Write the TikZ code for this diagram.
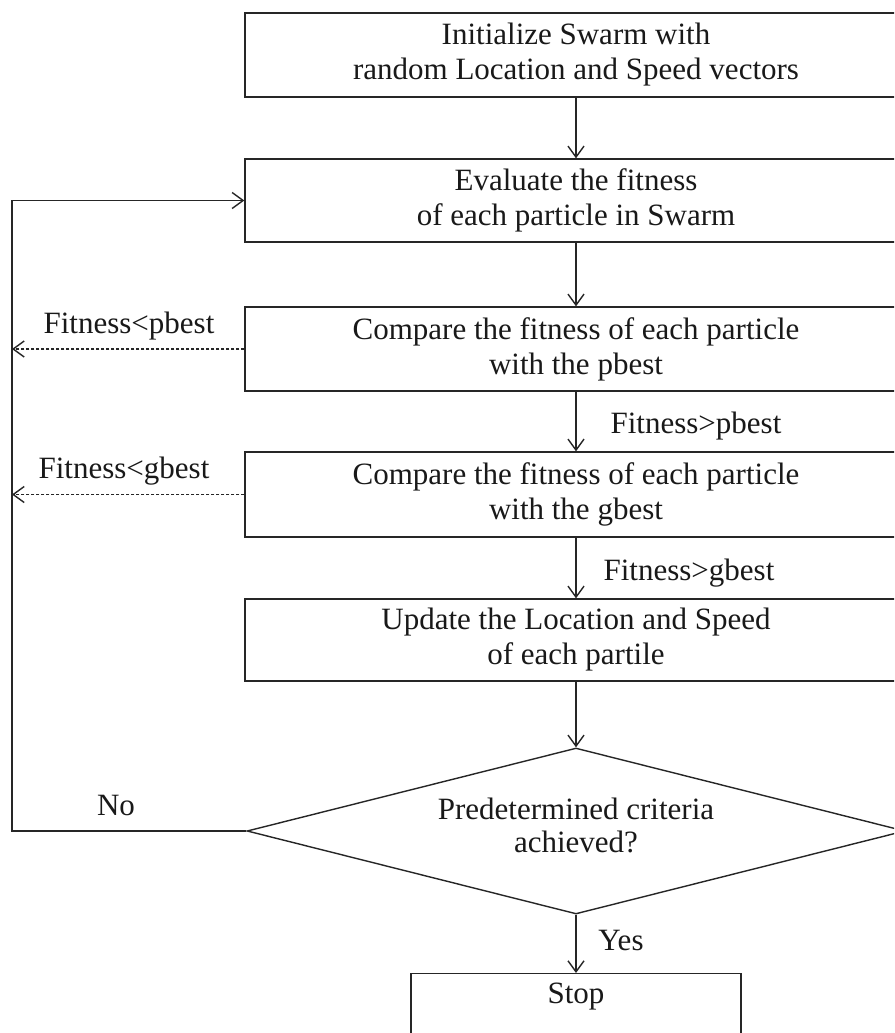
\documentclass[tikz,border=0pt]{standalone}
\usepackage{fontspec}
\setmainfont{Liberation Serif}
\usetikzlibrary{arrows.meta,shapes.geometric,calc}
\begin{document}
\begin{tikzpicture}[x=1pt,y=-1pt,
  edgeline/.style={draw=black!85, line width=1.4pt},
  box/.style={edgeline, rectangle, minimum width=662, inner sep=0, align=center,
    font=\fontsize{31}{35}\selectfont, text=black!90},
  dec/.style={edgeline, diamond, minimum width=658, minimum height=166, aspect=4,
    inner sep=0, align=center, font=\fontsize{31}{35}\selectfont, text=black!90},
  arr/.style={edgeline, -{Straight Barb[length=11pt,width=16pt]}},
  darr/.style={arr, dash pattern=on 3pt off 2pt},
  lbl/.style={font=\fontsize{31}{35}\selectfont, anchor=base, inner sep=0, text=black!90},
]
\useasboundingbox (0,0) rectangle (894,1033);
\clip (0,0) rectangle (894,1033);
\fill[white] (0,0) rectangle (894,1033);

\node[box, minimum height=84] (init) at (576,55) {Initialize Swarm with\\random Location and Speed vectors};
\node[box, minimum height=83] (eval) at (576,200.5) {Evaluate the fitness\\of each particle in Swarm};
\node[box, minimum height=84] (cmpp) at (576,349) {Compare the fitness of each particle\\with the pbest};
\node[box, minimum height=85] (cmpg) at (576,494.5) {Compare the fitness of each particle\\with the gbest};
\node[box, minimum height=82] (upd) at (576,640) {Update the Location and Speed\\of each partile};
\node[dec] (dc) at (576,831) {};
\node[lbl] (dct1) at (576,819) {Predetermined criteria};
\node[lbl] (dct2) at (576,852) {achieved?};
\node[edgeline, rectangle, minimum width=330, minimum height=100, anchor=north, inner sep=0] (stop) at (576,973) {};
\node[lbl] (stoptxt) at (576,1003) {Stop};

\coordinate (fb) at (12,831);

\draw[arr] (init) -- (eval);
\draw[arr] (eval) -- (cmpp);
\draw[arr] (cmpp) -- (cmpg);
\draw[arr] (cmpg) -- (upd);
\draw[arr] (upd) -- (dc);
\draw[arr] (dc) -- (stop);
\draw[arr] (dc.west) -- (fb) |- (eval.west);
\draw[darr] (cmpp.west) -- (cmpp.west -| fb);
\draw[darr] (cmpg.west) -- (cmpg.west -| fb);

\node[lbl] (lp1) at (129,333) {Fitness<pbest};
\node[lbl] (lp2) at (696,433) {Fitness>pbest};
\node[lbl] (lg1) at (124,478) {Fitness<gbest};
\node[lbl] (lg2) at (689,580) {Fitness>gbest};
\node[lbl] (no) at (116,815) {No};
\node[lbl] (yes) at (621,950) {Yes};
\end{tikzpicture}
\end{document}
